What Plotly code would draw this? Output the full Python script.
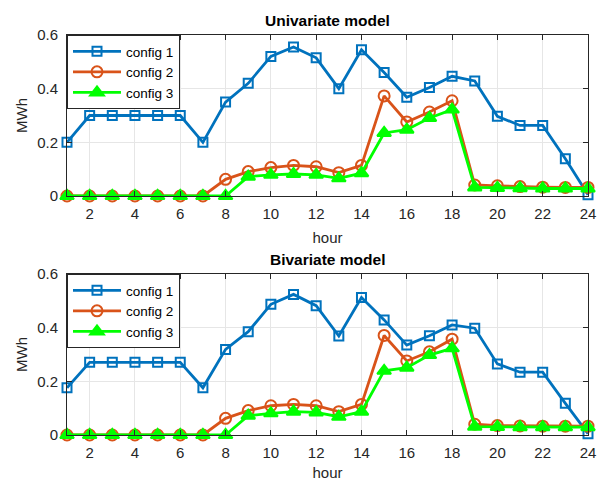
import plotly.graph_objects as go

hours = list(range(1, 25))

uni_c1 = [0.20, 0.30, 0.30, 0.30, 0.30, 0.30, 0.20, 0.35, 0.42, 0.52, 0.555, 0.515,
          0.40, 0.545, 0.46, 0.368, 0.404, 0.446, 0.429, 0.297, 0.263, 0.263, 0.139, 0.005]
uni_c2 = [0, 0, 0, 0, 0, 0, 0, 0.062, 0.091, 0.106, 0.114, 0.109,
          0.087, 0.114, 0.373, 0.276, 0.313, 0.355, 0.041, 0.038, 0.035, 0.033, 0.032, 0.032]
uni_c3 = [0, 0, 0, 0, 0, 0, 0, 0, 0.072, 0.079, 0.082, 0.079,
          0.066, 0.085, 0.235, 0.247, 0.291, 0.322, 0.032, 0.030, 0.029, 0.028, 0.028, 0.028]

bi_c1 = [0.176, 0.271, 0.271, 0.271, 0.271, 0.271, 0.176, 0.319, 0.385, 0.487, 0.524, 0.482,
         0.369, 0.512, 0.429, 0.335, 0.370, 0.410, 0.398, 0.265, 0.234, 0.234, 0.118, 0.005]
bi_c2 = [0, 0, 0, 0, 0, 0, 0, 0.062, 0.091, 0.109, 0.114, 0.109,
         0.087, 0.114, 0.371, 0.276, 0.310, 0.357, 0.040, 0.035, 0.034, 0.033, 0.033, 0.033]
bi_c3 = [0, 0, 0, 0, 0, 0, 0, 0, 0.072, 0.081, 0.087, 0.084,
         0.068, 0.087, 0.239, 0.251, 0.298, 0.323, 0.031, 0.030, 0.029, 0.029, 0.029, 0.029]

titles = ["Univariate model", "Bivariate model"]
series_names = ["config 1", "config 2", "config 3"]
colors = ["#0072BD", "#D95319", "#00FF00"]
symbols = ["square-open", "circle-open", "triangle-up"]
sizes = [9, 11, 12]

x_ticks = list(range(2, 25, 2))
y_ticks = [0, 0.2, 0.4, 0.6]
y_labels = ["0", "0.2", "0.4", "0.6"]

FONT = "Liberation Sans, Arial, sans-serif"

fig = go.Figure()
data_sets = [[uni_c1, uni_c2, uni_c3], [bi_c1, bi_c2, bi_c3]]
for p, ds in enumerate(data_sets):
    xa = "x" if p == 0 else "x2"
    ya = "y" if p == 0 else "y2"
    for i, vals in enumerate(ds):
        fig.add_trace(go.Scatter(
            x=hours, y=vals, mode="lines+markers", name=series_names[i],
            line=dict(color=colors[i], width=2.8),
            marker=dict(symbol=symbols[i], size=sizes[i], color=colors[i],
                        line=dict(color=colors[i], width=2)),
            xaxis=xa, yaxis=ya, cliponaxis=False,
            showlegend=True, legend="legend" if p == 0 else "legend2",
        ))

W, H = 597, 481
x_dom = [67 / W, 588 / W]
top_dom = [(H - 196) / H, (H - 35) / H]
bot_dom = [(H - 435) / H, (H - 274) / H]

tickfont = dict(family=FONT, size=15, color="#262626")
axis_common = dict(showline=True, linecolor="#262626", linewidth=1, mirror="allticks",
                   ticks="inside", ticklen=5, tickcolor="#262626", automargin=False,
                   showgrid=True, gridcolor="#E6E6E6", gridwidth=1, zeroline=False,
                   tickfont=tickfont)
xax = dict(range=[1, 24], tickvals=x_ticks, ticklabelstandoff=4,
           title=dict(text="hour", font=dict(family=FONT, size=15, color="#262626"), standoff=11),
           **axis_common)
yax = dict(range=[0, 0.6], tickvals=y_ticks, ticktext=y_labels, ticklabelstandoff=5,
           title=dict(text="MWh", font=dict(family=FONT, size=15, color="#262626"), standoff=5),
           **axis_common)

legend_common = dict(xanchor="left", yanchor="top", bordercolor="#262626", borderwidth=1,
                     bgcolor="white", font=dict(family=FONT, size=13.5, color="black"),
                     tracegroupgap=0, itemwidth=48)

fig.update_layout(
    template="none",
    width=W, height=H, margin=dict(l=0, r=0, t=0, b=0, autoexpand=False),
    plot_bgcolor="white", paper_bgcolor="white",
    font=dict(family=FONT, color="#262626"),
    xaxis=dict(domain=x_dom, anchor="y", **xax),
    yaxis=dict(domain=top_dom, anchor="x", **yax),
    xaxis2=dict(domain=x_dom, anchor="y2", **xax),
    yaxis2=dict(domain=bot_dom, anchor="x2", **yax),
    legend=dict(x=x_dom[0], y=top_dom[1], **legend_common),
    legend2=dict(x=x_dom[0], y=bot_dom[1], **legend_common),
    annotations=[
        dict(text="<b>" + titles[0] + "</b>", x=(x_dom[0] + x_dom[1]) / 2, y=top_dom[1],
             xref="paper", yref="paper", xanchor="center", yanchor="bottom", yshift=4,
             showarrow=False, font=dict(family=FONT, size=15.5, color="black")),
        dict(text="<b>" + titles[1] + "</b>", x=(x_dom[0] + x_dom[1]) / 2, y=bot_dom[1],
             xref="paper", yref="paper", xanchor="center", yanchor="bottom", yshift=4,
             showarrow=False, font=dict(family=FONT, size=15.5, color="black")),
    ],
)

fig.write_html("out.html")
